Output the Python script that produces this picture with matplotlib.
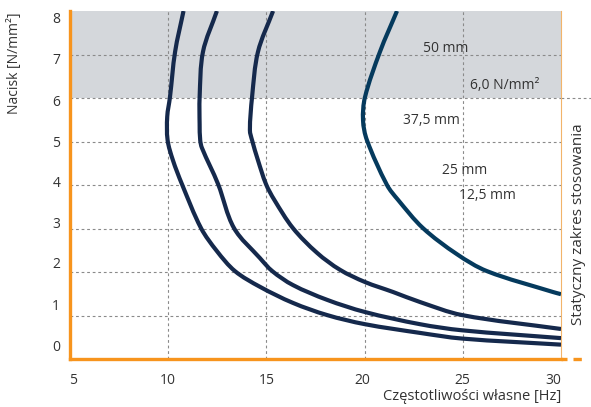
import numpy as np
import matplotlib.pyplot as plt
from matplotlib.path import Path
from matplotlib.patches import PathPatch

plt.rcParams['font.family'] = ['Open Sans', 'DejaVu Sans']

# curves: natural frequency [Hz] vs pressure [N/mm2]
freq_a = [10.78, 10.35, 10.09, 9.95, 9.97, 10.24, 10.70, 11.67, 12.48, 13.40, 14.67,
          16.35, 18.09, 20.02, 22.82, 24.96, 30.0]
load_a = [8.0, 7.06, 6.02, 5.57, 5.03, 4.57, 4.02, 3.01, 2.48, 2.02, 1.66,
          1.29, 1.01, 0.80, 0.60, 0.47, 0.33]

freq_b = [12.48, 11.77, 11.60, 11.60, 11.63, 11.72, 12.54, 13.35, 14.67, 15.30,
          16.35, 18.09, 20.02, 22.82, 24.96, 30.0]
load_b = [8.0, 7.06, 6.02, 5.40, 5.03, 4.85, 4.02, 3.01, 2.32, 2.02,
          1.70, 1.36, 1.08, 0.80, 0.66, 0.48]

freq_c = [15.34, 14.57, 14.27, 14.16, 14.27, 14.57, 14.98, 15.40, 16.35, 17.58, 18.75,
          20.02, 21.45, 22.82, 24.96, 30.0]
load_c = [8.0, 7.06, 6.02, 5.26, 5.03, 4.57, 4.02, 3.66, 3.01, 2.44, 2.05,
          1.77, 1.54, 1.31, 1.01, 0.69]

freq_d = [21.65, 20.78, 20.02, 19.92, 20.12, 21.14, 21.70, 22.97, 24.70, 26.23,
          29.59, 30.0]
load_d = [8.0, 7.06, 6.02, 5.49, 5.03, 4.00, 3.66, 3.01, 2.41, 2.02,
          1.54, 1.49]

# labels placed in the plot (text, x, y)
labels = [('50 mm', 22.97, 7.13),
          ('6,0 N/mm²', 25.37, 6.28),
          ('37,5 mm', 21.95, 5.49),
          ('25 mm', 23.94, 4.34),
          ('12,5 mm', 24.81, 3.75)]

x_grid = [10, 15, 20, 25]
y_grid = [1, 2, 3, 4, 5, 6, 7]
x_tick_pos = [5.15, 10, 15.03, 19.9, 24.96, 29.6]
x_tick_lab = ['5', '10', '15', '20', '25', '30']
y_tick_pos = [0.32, 1.26, 2.21, 3.13, 4.07, 5.01, 5.95, 6.90, 7.86]
y_tick_lab = ['0', '1', '2', '3', '4', '5', '6', '7', '8']

orange = '#f7941d'
navy = '#15294c'
blue = '#053a5d'
text_col = '#333333'


def smooth_path(ax, xs, ys):
    """Chord-length Catmull-Rom through the read points, as Bezier segments.
    Tangents are worked out in pixel space so x and y scale alike."""
    pts = ax.transData.transform(np.column_stack([xs, ys]))
    n = len(pts)
    tang = np.zeros_like(pts)
    for i in range(n):
        lo = pts[max(i - 1, 0)]
        hi = pts[min(i + 1, n - 1)]
        d = hi - lo
        tang[i] = d / (np.hypot(*d) or 1.0)
    verts = [pts[0]]
    codes = [Path.MOVETO]
    for i in range(n - 1):
        seg = np.hypot(*(pts[i + 1] - pts[i])) / 3
        verts += [pts[i] + tang[i] * seg, pts[i + 1] - tang[i + 1] * seg, pts[i + 1]]
        codes += [Path.CURVE4] * 3
    verts = ax.transData.inverted().transform(np.array(verts))
    return Path(verts, codes)


def draw_curve(ax, xs, ys, color):
    patch = PathPatch(smooth_path(ax, xs, ys), facecolor='none', edgecolor=color,
                      lw=3.0, capstyle='butt', joinstyle='round', zorder=3)
    ax.add_patch(patch)


fig = plt.figure(figsize=(5.91, 4.07), dpi=100)
ax = fig.add_axes([70 / 591, 1 - 359 / 407, 491 / 591, 348 / 407])
ax.set_xlim(5, 30)
ax.set_ylim(0, 8)

# grey band above 6 N/mm2
ax.axhspan(6, 8, color='#d4d7db', zorder=0, lw=0)

for gx in x_grid:
    ax.axvline(gx, color='#8a8a8a', lw=0.8, ls=(0, (2.5, 2.5)), zorder=1)
for gy in y_grid:
    ax.axhline(gy, color='#8a8a8a', lw=0.8, ls=(0, (2.5, 2.5)), zorder=1)
# 6.0 line runs out past the right edge
ax.plot([1.0, 1.062], [6, 6], color='#8a8a8a', lw=0.8, ls=(0, (2.5, 2.5)),
        transform=ax.get_yaxis_transform(), clip_on=False)

draw_curve(ax, freq_a, load_a, navy)
draw_curve(ax, freq_b, load_b, navy)
draw_curve(ax, freq_c, load_c, navy)
draw_curve(ax, freq_d, load_d, blue)

for txt, tx, ty in labels:
    ax.text(tx, ty, txt, fontsize=10, color=text_col, ha='left', va='center', zorder=4)

# spines
ax.spines['top'].set_visible(False)
ax.spines['left'].set_color(orange)
ax.spines['left'].set_linewidth(2.4)
ax.spines['bottom'].set_color(orange)
ax.spines['bottom'].set_linewidth(2.4)
ax.spines['right'].set_color('#f2b46a')
ax.spines['right'].set_linewidth(0.8)
ax.plot([1.0, 1.012], [0, 0], color=orange, lw=2.4, transform=ax.transAxes,
        clip_on=False, solid_capstyle='butt')
ax.plot([1.024, 1.062], [0, 0], color=orange, lw=2.4, ls=(0, (2.5, 3.0)),
        transform=ax.transAxes, clip_on=False)

ax.set_xticks(x_tick_pos, x_tick_lab)
ax.set_yticks(y_tick_pos, y_tick_lab)
ax.tick_params(length=0, labelsize=10, colors=text_col)
ax.tick_params(axis='x', pad=10)
ax.tick_params(axis='y', pad=7)

fig.text(561 / 591, 1 - 396 / 407, 'Częstotliwości własne [Hz]', fontsize=10.5,
         color=text_col, ha='right', va='center')
fig.text(15 / 591, 1 - 63 / 407, 'Nacisk [N/mm²]', fontsize=10, color=text_col,
         rotation=90, ha='center', va='center')
fig.text(578 / 591, 1 - 224 / 407, 'Statyczny zakres stosowania', fontsize=11,
         color=text_col, rotation=90, ha='center', va='center')

fig.savefig('out.png', dpi=100)
